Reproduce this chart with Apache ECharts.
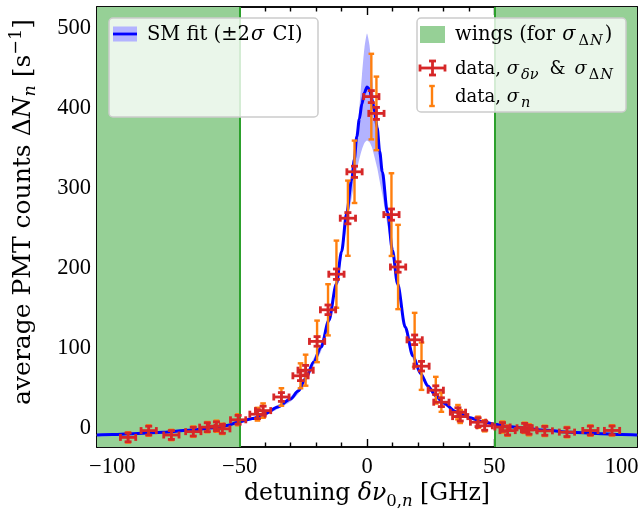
<!DOCTYPE html>
<html><head><meta charset="utf-8">
<script src="https://cdn.jsdelivr.net/npm/echarts@6/dist/echarts.min.js"></script>
<style>html,body{margin:0;padding:0;background:#fff}#c{width:644px;height:519px}</style>
</head><body><div id="c"></div>
<script>
// ---------- data ----------
const detuning = [-93.8, -85.7, -76.8, -68.2, -62.7, -59.1, -56.8, -50.6, -43.0, -40.8, -33.6, -26.1, -24.1, -19.6, -15.3, -12.0, -7.5, -4.9, 1.7, 3.7, 9.6, 12.2, 18.7, 21.4, 27.0, 29.2, 35.7, 36.6, 43.6, 46.2, 53.2, 55.2, 61.9, 63.6, 69.8, 78.5, 87.7, 96.2];
const counts = [-12, -3.5, -9, -4.8, 0.8, 2, -1.3, 10, 17, 21.5, 38.5, 65, 72, 108, 147.5, 192, 262, 320, 414, 393, 266.5, 201, 110, 77, 47, 32, 19.5, 14, 7, 2.5, 1, -3.5, 0, -2.5, -3.8, -5.4, -3.4, -3.3];
const sigmaDetuning = [3, 3, 3, 3, 3, 3, 3, 3, 3, 3, 3, 3, 3, 3, 3, 3, 3, 3, 3, 3, 3, 3, 3, 3, 3, 3, 3, 3, 3, 3, 3, 3, 3, 3, 3, 3, 3, 3];
const sigmaCounts = [5.5, 5.5, 5.5, 5.5, 5.5, 5.5, 5.5, 5.5, 5.5, 5.5, 5.5, 6, 6, 6, 6, 6.5, 7, 7, 7.5, 7.5, 7, 6.5, 6, 6, 5.5, 5.5, 5.5, 5.5, 5.5, 5.5, 5.5, 5.5, 5.5, 5.5, 5.5, 5.5, 5.5, 5.5];
const sigmaN = [6.5, 6.5, 6.5, 6.5, 6.5, 7, 6.5, 7, 8, 9, 11, 15.6, 19.4, 26, 32, 42, 47, 39, 53.5, 46, 51.7, 52.7, 33.7, 29.6, 16.7, 12, 9, 8, 7, 7, 7, 6.5, 6.5, 7, 6.5, 6.5, 6.5, 6.5];

const fitX = [-106, -100, -90, -80, -70, -60, -55, -50, -45, -40, -35, -30, -27, -24, -21, -18, -15, -12, -10, -8, -6, -5, -4, -3, -2, -1, 0, 1, 2, 3, 4, 5, 6, 8, 10, 12, 15, 18, 21, 24, 27, 30, 35, 40, 45, 50, 55, 60, 70, 80, 90, 100, 106];
const fitY = [-9, -8.5, -7, -5.5, -3, 0, 3, 7.5, 11.5, 17.5, 26, 36, 46, 62, 82, 101, 134, 180, 220, 268, 310, 335, 364, 386, 405, 419, 426, 423, 410, 395, 375, 345, 320, 270, 222, 180, 126, 90, 68, 52, 40, 31, 20, 13, 8, 4.5, 2, 0, -3, -5.5, -7, -8.5, -9];
const bandHigh = [-7.5, -7, -5.8, -4.4, -2, 1.2, 4.3, 9, 13.2, 19.5, 28.5, 39, 49.5, 66, 86.5, 106, 139, 185, 225, 272, 316, 340, 368, 400, 440, 475, 493, 478, 442, 402, 380, 350, 325, 274, 226, 184, 130, 94, 71, 55, 43, 33, 21.5, 14.5, 9.5, 6, 3.3, 1.2, -2, -4.4, -5.8, -7, -7.5];
const bandLow = [-10.5, -10, -8.2, -6.6, -4, -1.2, 1.7, 6, 9.8, 15.5, 23.5, 33, 42.5, 58, 77.5, 96, 129, 175, 212, 252, 288, 305, 322, 336, 348, 356, 359, 357, 350, 338, 325, 308, 292, 254, 214, 176, 122, 86, 65, 49, 37, 29, 18.5, 11.5, 6.5, 3, 0.7, -1.2, -4, -6.6, -8.2, -10, -10.5];

const wingRanges = [[-106, -50], [50, 106]];
const wingEdges = [-50, 50];
const xMajorTicks = [-100, -50, 0, 50, 100];
const xMinorTicks = [-90, -80, -70, -60, -40, -30, -20, -10, 10, 20, 30, 40, 60, 70, 80, 90];
const yMajorTicks = [0, 100, 200, 300, 400, 500];
const yMinorTicks = [50, 150, 250, 350, 450];
const xRange = [-106, 106];
const yRange = [-24, 526];

// ---------- styles ----------
const RED = '#d62728', ORANGE = '#ff7f0e', BLUE = '#0000ff', BAND = '#b3b3ff', GREEN_FILL = '#96d096', GREEN_LINE = '#2ca02c';
const TICKFONT = 'Liberation Serif';
const FONT = 'DejaVu Serif';
const minus = v => String(v).replace('-', '\u2212');

function xAxisDef(pos, ticks, len, labels) {
  return {
    type: 'value', position: pos, min: xRange[0], max: xRange[1],
    axisLine: { show: true, onZero: false, lineStyle: { color: '#000', width: 1.6 } },
    axisTick: { show: true, inside: true, length: len, customValues: ticks, lineStyle: { color: '#000', width: 1.4 } },
    axisLabel: labels ? { show: true, customValues: ticks, formatter: minus, margin: 9, color: '#000', fontFamily: TICKFONT, fontSize: 22.5 } : { show: false },
    splitLine: { show: false }
  };
}
function yAxisDef(pos, ticks, len, labels) {
  return {
    type: 'value', position: pos, min: yRange[0], max: yRange[1],
    axisLine: { show: true, onZero: false, lineStyle: { color: '#000', width: 1.6 } },
    axisTick: { show: true, inside: true, length: len, customValues: ticks, lineStyle: { color: '#000', width: 1.4 } },
    axisLabel: labels ? { show: true, customValues: ticks, formatter: minus, margin: 6, color: '#000', fontFamily: TICKFONT, fontSize: 22.5 } : { show: false },
    splitLine: { show: false }
  };
}

function crossRender(params, api) {
  const x = api.value(0), y = api.value(1), sx = api.value(2), sy = api.value(3);
  const c = api.coord([x, y]);
  const l = api.coord([x - sx, y]), r = api.coord([x + sx, y]);
  const t = api.coord([x, y + sy]), b = api.coord([x, y - sy]);
  const st = { stroke: RED, lineWidth: 2.8 };
  const cap = 3.5;
  return { type: 'group', children: [
    { type: 'line', shape: { x1: l[0], y1: c[1], x2: r[0], y2: c[1] }, style: st },
    { type: 'line', shape: { x1: c[0], y1: t[1], x2: c[0], y2: b[1] }, style: st },
    { type: 'line', shape: { x1: l[0], y1: c[1] - cap, x2: l[0], y2: c[1] + cap }, style: st },
    { type: 'line', shape: { x1: r[0], y1: c[1] - cap, x2: r[0], y2: c[1] + cap }, style: st },
    { type: 'line', shape: { x1: c[0] - cap, y1: t[1], x2: c[0] + cap, y2: t[1] }, style: st },
    { type: 'line', shape: { x1: c[0] - cap, y1: b[1], x2: c[0] + cap, y2: b[1] }, style: st }
  ] };
}
function vbarRender(params, api) {
  const x = api.value(0), y = api.value(1), sy = api.value(2);
  const t = api.coord([x, y + sy]), b = api.coord([x, y - sy]);
  const st = { stroke: ORANGE, lineWidth: 2.4 };
  const cap = 2.8;
  return { type: 'group', children: [
    { type: 'line', shape: { x1: t[0], y1: t[1], x2: b[0], y2: b[1] }, style: st },
    { type: 'line', shape: { x1: t[0] - cap, y1: t[1], x2: t[0] + cap, y2: t[1] }, style: st },
    { type: 'line', shape: { x1: b[0] - cap, y1: b[1], x2: b[0] + cap, y2: b[1] }, style: st }
  ] };
}
function bandRender(params, api) {
  const pts = [];
  for (let i = 0; i < fitX.length; i++) pts.push(api.coord([fitX[i], bandHigh[i]]));
  for (let i = fitX.length - 1; i >= 0; i--) pts.push(api.coord([fitX[i], bandLow[i]]));
  return { type: 'polygon', shape: { points: pts, smooth: 0.2 }, style: { fill: BAND, stroke: null } };
}

const crossData = detuning.map((d, i) => [d, counts[i], sigmaDetuning[i], sigmaCounts[i]]);
const nData = detuning.map((d, i) => [d, counts[i], sigmaN[i]]);
const fitData = fitX.map((x, i) => [x, fitY[i]]);

// ---------- legend & titles (graphic) ----------
const LF = 18, LS = 14.5;
const richLegend = {
  a: { fontFamily: FONT, fontSize: LF, lineHeight: 27 },
  b: { fontFamily: FONT, fontSize: 19.5, lineHeight: 27 },
  i: { fontFamily: FONT, fontSize: LF, fontStyle: 'italic', padding: [0, 1, 0, 0] },
  ib: { fontFamily: FONT, fontSize: 19.5, fontStyle: 'italic', padding: [0, 2, 0, 1] },
  s: { fontFamily: FONT, fontSize: LS, verticalAlign: 'bottom', lineHeight: 14, padding: [0, 0, 0, 1] },
  si: { fontFamily: FONT, fontSize: LS, fontStyle: 'italic', verticalAlign: 'bottom', lineHeight: 14, padding: [0, 2, 0, 1] },
  amp: { fontFamily: FONT, fontSize: LF, lineHeight: 27, padding: [0, 9, 0, 9] }
};
function legendText(x, y, text) {
  return { type: 'text', x: x, y: y, z: 110, style: { text: text, rich: richLegend, verticalAlign: 'middle', align: 'left', fill: '#000', font: LF + 'px ' + FONT } };
}
function ln(x1, y1, x2, y2, color, w) {
  return { type: 'line', z: 110, shape: { x1, y1, x2, y2 }, style: { stroke: color, lineWidth: w } };
}
function titleRich(F, S) {
  return {
    a: { fontFamily: FONT, fontSize: F, lineHeight: 32 },
    i: { fontFamily: FONT, fontSize: F, fontStyle: 'italic' },
    s: { fontFamily: FONT, fontSize: S, verticalAlign: 'bottom', lineHeight: 16 },
    si: { fontFamily: FONT, fontSize: S, fontStyle: 'italic', verticalAlign: 'bottom', lineHeight: 16 },
    p: { fontFamily: FONT, fontSize: S, verticalAlign: 'top', lineHeight: 16 }
  };
}

const graphics = [
  // left legend
  { type: 'rect', z: 100, shape: { x: 109, y: 18, width: 209, height: 99, r: 4 }, style: { fill: 'rgba(255,255,255,0.8)', stroke: '#cccccc', lineWidth: 1.5 } },
  { type: 'rect', z: 110, shape: { x: 113, y: 26.5, width: 24, height: 15 }, style: { fill: BAND } },
  ln(113, 34, 137, 34, BLUE, 2.8),
  legendText(147, 35, '{b|SM fit (\u00b12}{ib|\u03c3}{b| CI)}'),
  // right legend
  { type: 'rect', z: 100, shape: { x: 417, y: 18, width: 209, height: 94, r: 4 }, style: { fill: 'rgba(255,255,255,0.8)', stroke: '#cccccc', lineWidth: 1.5 } },
  { type: 'rect', z: 110, shape: { x: 420, y: 26, width: 25, height: 17 }, style: { fill: GREEN_FILL } },
  legendText(455, 35, '{b|wings (for }{ib|\u03c3}{s|\u0394}{si|N}{b|)}'),
  ln(420, 68, 445, 68, RED, 2.8), ln(432.5, 61, 432.5, 75, RED, 2.8),
  ln(420, 64.5, 420, 71.5, RED, 2.8), ln(445, 64.5, 445, 71.5, RED, 2.8),
  ln(429, 61, 436, 61, RED, 2.8), ln(429, 75, 436, 75, RED, 2.8),
  legendText(455, 69, '{a|data, }{i|\u03c3}{si|\u03b4\u03bd}{amp|&}{i|\u03c3}{s|\u0394}{si|N}'),
  ln(432, 86, 432, 106, ORANGE, 2.4), ln(429.2, 86, 434.8, 86, ORANGE, 2.4), ln(429.2, 106, 434.8, 106, ORANGE, 2.4),
  legendText(455, 97, '{a|data, }{i|\u03c3}{si|n}'),
  // axis titles
  { type: 'text', x: 367, y: 494, z: 110, style: { text: '{a|detuning }{i|\u03b4\u03bd}{s|0,}{si|n}{a| [GHz]}', align: 'center', verticalAlign: 'middle', fill: '#000', font: '23.5px ' + FONT, rich: titleRich(23.5, 16.5) } },
  { type: 'text', x: 23, y: 212, rotation: Math.PI / 2, z: 110, style: { text: '{a|average PMT counts \u0394}{i|N}{si|n}{a| [s}{p|\u22121}{a|]}', align: 'center', verticalAlign: 'middle', fill: '#000', font: '25px ' + FONT, rich: titleRich(25, 17.5) } }
];

const chart = echarts.init(document.getElementById('c'), null, { renderer: 'canvas' });
chart.setOption({
  animation: false,
  backgroundColor: '#ffffff',
  grid: { left: 97, top: 7, width: 540, height: 440, containLabel: false },
  xAxis: [
    xAxisDef('bottom', xMajorTicks, 8, true),
    xAxisDef('bottom', xMinorTicks, 4.5, false),
    xAxisDef('top', xMajorTicks, 8, false),
    xAxisDef('top', xMinorTicks, 4.5, false)
  ],
  yAxis: [
    yAxisDef('left', yMajorTicks, 8, true),
    yAxisDef('left', yMinorTicks, 4.5, false),
    yAxisDef('right', yMajorTicks, 8, false),
    yAxisDef('right', yMinorTicks, 4.5, false)
  ],
  series: [
    { type: 'line', data: [], silent: true, z: 1,
      markArea: { silent: true, itemStyle: { color: GREEN_FILL, opacity: 1 }, data: wingRanges.map(r => [{ xAxis: r[0] }, { xAxis: r[1] }]) },
      markLine: { silent: true, symbol: 'none', label: { show: false }, lineStyle: { color: GREEN_LINE, width: 2, type: 'solid' }, data: wingEdges.map(v => ({ xAxis: v })) } },
    { type: 'custom', z: 2, silent: true, data: [[0, 0]], renderItem: bandRender },
    { type: 'line', z: 3, silent: true, data: fitData, showSymbol: false, smooth: 0.3, smoothMonotone: 'x', lineStyle: { color: BLUE, width: 3 } },
    { type: 'custom', z: 4, silent: true, data: nData, encode: { x: 0, y: 1 }, renderItem: vbarRender },
    { type: 'custom', z: 5, silent: true, data: crossData, encode: { x: 0, y: 1 }, renderItem: crossRender }
  ],
  graphic: graphics
});
</script>
</body></html>
